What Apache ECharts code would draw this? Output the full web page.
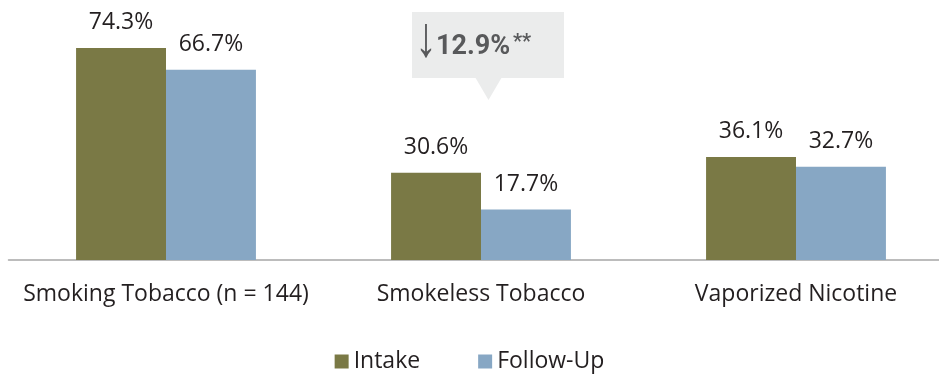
<!DOCTYPE html>
<html>
<head>
<meta charset="utf-8">
<script src="https://cdn.jsdelivr.net/npm/echarts@6/dist/echarts.min.js"></script>
<style>html,body{margin:0;padding:0;background:#fff;}#c{width:939px;height:374px;}</style>
</head>
<body>
<div id="c"></div>
<script>
const categories = ['Smoking Tobacco (n = 144)', 'Smokeless Tobacco', 'Vaporized Nicotine'];
const seriesNames = ['Intake', 'Follow-Up'];
const intake = [74.3, 30.6, 36.1];
const followUp = [66.7, 17.7, 32.7];
const calloutChange = '12.9%';

const chart = echarts.init(document.getElementById('c'), null, {renderer: 'canvas'});
const FONT = 'Open Sans';
const labelStyle = {
  show: true, position: 'top', distance: 14,
  formatter: p => p.value.toFixed(1) + '%',
  fontFamily: FONT, fontSize: 23, color: '#231f20'
};
chart.setOption({
  animation: false,
  backgroundColor: '#ffffff',
  grid: {left: 8.5, width: 945, top: 0, bottom: 114, outerBoundsMode: 'none', containLabel: false},
  xAxis: {
    type: 'category', data: categories,
    axisLine: {lineStyle: {color: '#a6a6a6', width: 1.5}},
    axisTick: {show: false},
    axisLabel: {interval: 0, hideOverlap: false, fontFamily: FONT, fontSize: 23, color: '#231f20', margin: 23}
  },
  yAxis: {type: 'value', min: 0, max: 91.1, show: false, splitLine: {show: false}},
  legend: {
    top: 345, left: 'center', itemWidth: 14, itemHeight: 14, itemGap: 58,
    icon: 'rect',
    textStyle: {fontFamily: FONT, fontSize: 23, color: '#231f20', padding: [0,0,0,0]},
    data: seriesNames
  },
  series: [
    {name: seriesNames[0], type: 'bar', data: intake, barGap: '0%', barCategoryGap: '42.9%',
     itemStyle: {color: '#7a7945'}, label: labelStyle},
    {name: seriesNames[1], type: 'bar', data: followUp,
     itemStyle: {color: '#87a7c4'}, label: labelStyle}
  ],
  graphic: [
    {type: 'rect', shape: {x: 412, y: 12, width: 152, height: 66}, style: {fill: '#ebecec'}, z: 10},
    {type: 'polygon', shape: {points: [[475, 77], [502, 77], [488.5, 100]]}, style: {fill: '#ebecec'}, z: 10},
    {type: 'text', x: 415, y: 12, scaleY: 1.3, style: {text: '↓', font: '44px "Liberation Sans"', fill: '#58595b'}, z: 11},
    {type: 'text', x: 436, y: 34, style: {text: calloutChange, font: 'bold 27px Roboto', fill: '#58595b'}, z: 11},
    {type: 'text', x: 513, y: 33, style: {text: '**', font: 'bold 20px Roboto', fill: '#58595b'}, z: 11}
  ]
});
</script>
</body>
</html>
